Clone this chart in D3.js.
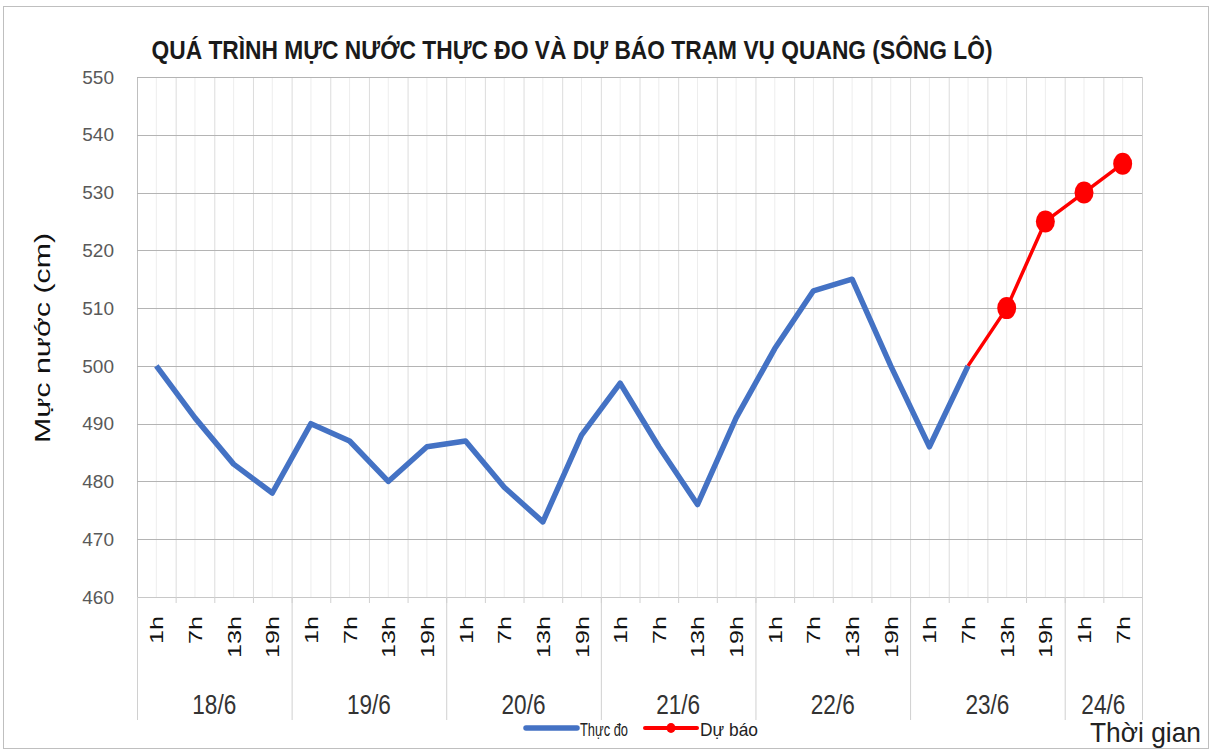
<!doctype html>
<html lang="vi">
  <head>
    <meta charset="UTF-8" />
    <title>Quá trình mực nước thực đo và dự báo trạm Vụ Quang</title>
    <script src="https://d3js.org/d3.v7.min.js"></script>
    <style>
      body { margin: 0; background: #fff; }
      text { font-family: 'Liberation Sans Narrow', 'Liberation Sans', Arial, sans-serif; }
    </style>
  </head>
  <body>
    <svg width="1214" height="753"></svg>
    <script>
      // data
      const days = ['18/6', '19/6', '20/6', '21/6', '22/6', '23/6', '24/6'];
      const hoursPerDay = [
        ['1h', '7h', '13h', '19h'],
        ['1h', '7h', '13h', '19h'],
        ['1h', '7h', '13h', '19h'],
        ['1h', '7h', '13h', '19h'],
        ['1h', '7h', '13h', '19h'],
        ['1h', '7h', '13h', '19h'],
        ['1h', '7h'],
      ];
      const observed = [
        500, 491, 483, 478,
        490, 487, 480, 486,
        487, 479, 473, 488,
        497, 486, 476, 491,
        503, 513, 515, 500,
        486, 500,
      ];
      // forecast starts at the last observed point (23/6 7h)
      const forecastStart = 21;
      const forecast = [500, 510, 525, 530, 535];
      const yTicks = [460, 470, 480, 490, 500, 510, 520, 530, 540, 550];

      const cats = [];
      days.forEach((d, di) =>
        hoursPerDay[di].forEach((h) => cats.push({ key: d + ' ' + h, day: d, hour: h })),
      );

      const margin = { top: 77, right: 72, bottom: 156, left: 137 };
      const W = 1214, H = 753;
      const svg = d3.select('svg');

      // outer frame
      svg.append('rect')
        .attr('x', 3.5).attr('y', 6.5)
        .attr('width', 1205).attr('height', 742)
        .attr('fill', 'none').attr('stroke', '#bfbfbf');

      const x = d3.scaleBand()
        .domain(cats.map((c) => c.key))
        .range([margin.left, W - margin.right])
        .padding(0);

      const y = d3.scaleLinear()
        .domain([460, 550])
        .range([H - margin.bottom, margin.top]);

      const bw = x.bandwidth();
      const x0 = margin.left, x1 = W - margin.right;
      const yb = y(460);

      // vertical gridlines: category edges and centres
      const vg = svg.append('g');
      cats.forEach((c, i) => {
        vg.append('line')
          .attr('x1', x(c.key) + 0.5).attr('x2', x(c.key) + 0.5)
          .attr('y1', y(550)).attr('y2', yb)
          .attr('stroke', i === 0 ? '#bfbfbf' : '#dcdcdc');
        vg.append('line')
          .attr('x1', x(c.key) + bw / 2).attr('x2', x(c.key) + bw / 2)
          .attr('y1', y(550)).attr('y2', yb)
          .attr('stroke', '#ededed');
      });
      vg.append('line')
        .attr('x1', x1 + 0.5).attr('x2', x1 + 0.5)
        .attr('y1', y(550)).attr('y2', yb)
        .attr('stroke', '#d0d0d0');

      // horizontal gridlines
      svg.append('g')
        .selectAll('line')
        .data(yTicks)
        .join('line')
        .attr('x1', x0).attr('x2', x1)
        .attr('y1', (d) => Math.round(y(d)) + 0.5)
        .attr('y2', (d) => Math.round(y(d)) + 0.5)
        .attr('stroke', (d) => (d === 460 ? '#c8c8c8' : '#b4b4b4'))
        .attr('stroke-width', 1.2);

      // y axis labels
      svg.append('g')
        .selectAll('text')
        .data(yTicks)
        .join('text')
        .attr('x', 114)
        .attr('y', (d) => y(d))
        .attr('dy', '0.35em')
        .attr('text-anchor', 'end')
        .attr('fill', '#595959')
        .style('font-family', "'Liberation Sans', Arial, sans-serif")
        .style('font-size', '19px')
        .text((d) => d);

      // y axis title
      svg.append('text')
        .attr('transform', `translate(50,338) rotate(-90)`)
        .attr('text-anchor', 'middle')
        .attr('fill', '#111')
        .style('font-family', "'Liberation Sans', Arial, sans-serif")
        .style('font-size', '22px')
        .attr('textLength', 210)
        .attr('lengthAdjust', 'spacingAndGlyphs')
        .text('Mực nước (cm)');

      // hour labels (rotated)
      svg.append('g')
        .selectAll('text')
        .data(cats)
        .join('text')
        .attr('transform', (c) => `translate(${x(c.key) + bw / 2 + 7},616) rotate(-90)`)
        .attr('text-anchor', 'end')
        .attr('fill', '#111')
        .style('font-family', "'Liberation Sans', Arial, sans-serif")
        .style('font-size', '19px')
        .attr('textLength', (c) => c.hour.length * 14)
        .attr('lengthAdjust', 'spacingAndGlyphs')
        .text((c) => c.hour);

      // category tick marks below axis and day separators
      const tk = svg.append('g');
      cats.forEach((c) => {
        tk.append('line')
          .attr('x1', x(c.key) + 0.5).attr('x2', x(c.key) + 0.5)
          .attr('y1', yb).attr('y2', yb + 6)
          .attr('stroke', '#d0d0d0');
      });
      let idx = 0;
      const dayEdges = [];
      days.forEach((d, di) => {
        const first = cats[idx];
        const last = cats[idx + hoursPerDay[di].length - 1];
        dayEdges.push({ day: d, a: x(first.key), b: x(last.key) + bw });
        idx += hoursPerDay[di].length;
      });
      const edgeXs = [dayEdges[0].a].concat(dayEdges.map((e) => e.b));
      tk.selectAll('line.sep')
        .data(edgeXs)
        .join('line')
        .attr('class', 'sep')
        .attr('x1', (d) => d + 0.5).attr('x2', (d) => d + 0.5)
        .attr('y1', yb).attr('y2', 720)
        .attr('stroke', '#d0d0d0');

      // day labels
      svg.append('g')
        .selectAll('text')
        .data(dayEdges)
        .join('text')
        .attr('x', (e) => (e.a + e.b) / 2)
        .attr('y', 714)
        .attr('text-anchor', 'middle')
        .attr('fill', '#333')
        .style('font-size', '27px')
        .attr('textLength', 44)
        .attr('lengthAdjust', 'spacingAndGlyphs')
        .text((e) => e.day);

      // observed line
      const line = d3.line()
        .x((d) => x(cats[d.i].key) + bw / 2)
        .y((d) => y(d.v));

      const obsPts = observed.map((v, i) => ({ i, v }));
      const fcPts = forecast.map((v, k) => ({ i: forecastStart + k, v }));

      svg.append('path')
        .datum(obsPts)
        .attr('d', line)
        .attr('fill', 'none')
        .attr('stroke', '#4472C4')
        .attr('stroke-width', 5.5)
        .attr('stroke-linejoin', 'round');

      svg.append('path')
        .datum(fcPts)
        .attr('d', line)
        .attr('fill', 'none')
        .attr('stroke', '#FF0000')
        .attr('stroke-width', 3.5)
        .attr('stroke-linejoin', 'round');

      svg.append('g')
        .selectAll('ellipse')
        .data(fcPts.slice(1))
        .join('ellipse')
        .attr('cx', (d) => x(cats[d.i].key) + bw / 2)
        .attr('cy', (d) => y(d.v))
        .attr('rx', 9.5)
        .attr('ry', 11)
        .attr('fill', '#FF0000');

      // title
      svg.append('text')
        .attr('x', 572)
        .attr('y', 59)
        .attr('text-anchor', 'middle')
        .attr('fill', '#1a1a1a')
        .style('font-weight', 'bold')
        .style('font-size', '26px')
        .attr('textLength', 841)
        .attr('lengthAdjust', 'spacingAndGlyphs')
        .text('QUÁ TRÌNH MỰC NƯỚC THỰC ĐO VÀ DỰ BÁO TRẠM VỤ QUANG (SÔNG LÔ)');

      // legend
      const lg = svg.append('g');
      lg.append('line')
        .attr('x1', 526).attr('x2', 577).attr('y1', 728).attr('y2', 728)
        .attr('stroke', '#4472C4').attr('stroke-width', 5.5).attr('stroke-linecap', 'round');
      lg.append('text')
        .attr('x', 580).attr('y', 736)
        .attr('fill', '#222')
        .style('font-size', '19px')
        .attr('textLength', 48)
        .attr('lengthAdjust', 'spacingAndGlyphs')
        .text('Thực đo');
      lg.append('line')
        .attr('x1', 645).attr('x2', 697).attr('y1', 728).attr('y2', 728)
        .attr('stroke', '#FF0000').attr('stroke-width', 4).attr('stroke-linecap', 'round');
      lg.append('ellipse')
        .attr('cx', 671).attr('cy', 728).attr('rx', 4.5).attr('ry', 5)
        .attr('fill', '#FF0000');
      lg.append('text')
        .attr('x', 700).attr('y', 736)
        .attr('fill', '#222')
        .style('font-size', '19px')
        .attr('textLength', 58)
        .attr('lengthAdjust', 'spacingAndGlyphs')
        .text('Dự báo');

      // x axis title
      svg.append('text')
        .attr('x', 1090).attr('y', 742)
        .attr('fill', '#222')
        .style('font-size', '28px')
        .attr('textLength', 111)
        .attr('lengthAdjust', 'spacingAndGlyphs')
        .text('Thời gian');
    </script>
  </body>
</html>
